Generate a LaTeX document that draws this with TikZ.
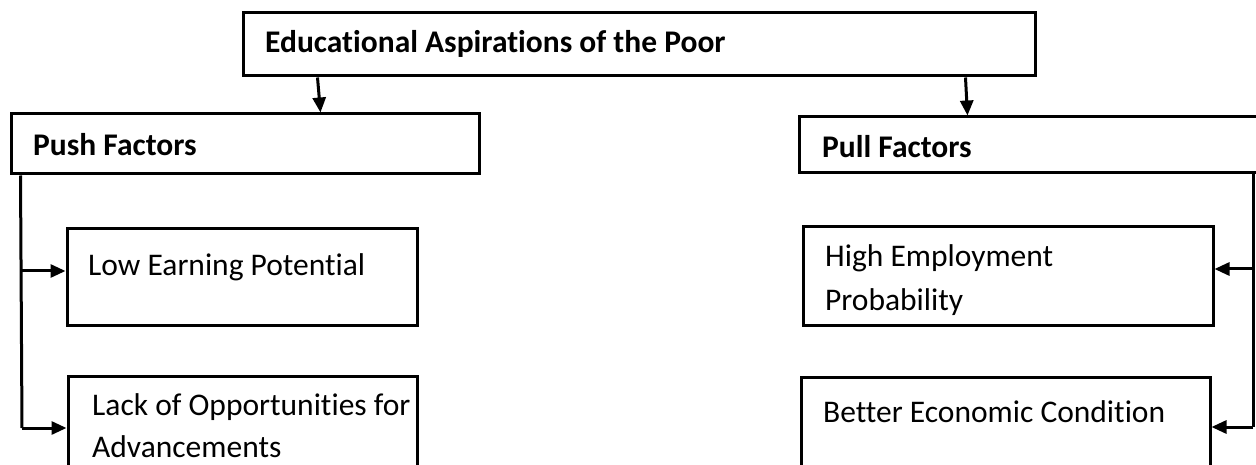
\documentclass[tikz,border=0pt]{standalone}
\usepackage{fontspec}
\setmainfont{Carlito}[Ligatures=NoCommon]
\usetikzlibrary{arrows.meta,calc}

\tikzset{
  frame/.style={draw=black, line width=3pt, inner sep=0pt, fill=white},
  label/.style={anchor=base west, inner sep=0pt, font=\fontsize{31.5}{42}\selectfont},
  head/.style={label, font=\fontsize{31.5}{42}\selectfont\bfseries},
  link/.style={draw=black, line width=3pt, -{Triangle[length=15pt,width=13pt]}},
  rail/.style={draw=black, line width=3pt}
}

\begin{document}
\begin{tikzpicture}[x=1pt, y=-1pt]
  \clip (0,0) rectangle (1256,465);
  \fill[white] (0,0) rectangle (1256,465);

  % boxes
  \node[frame, minimum width=792pt, minimum height=63pt] (top)    at (639,44.5)  {};
  \node[frame, minimum width=468pt, minimum height=60pt] (push)   at (245,144)   {};
  \node[frame, minimum width=463pt, minimum height=56pt] (pull)   at (1030.5,145) {};
  \node[frame, minimum width=350pt, minimum height=96pt] (low)    at (242,277)   {};
  \node[frame, minimum width=349pt, minimum height=104pt] (lack)  at (242.5,428) {};
  \node[frame, minimum width=410pt, minimum height=98pt] (high)   at (1008,276)  {};
  \node[frame, minimum width=409pt, minimum height=103pt] (better) at (1005.5,428.5) {};

  % texts
  \node[head] (ttop)  at (265,53)  {Educational Aspirations of the Poor};
  \node[head] (tpush) at (33,156)  {Push Factors};
  \node[head] (tpull) at (822,158) {Pull Factors};
  \node[label] (tlow)  at (88,276)  {Low Earning Potential};
  \node[label] (tlack1) at (92,415) {Lack of Opportunities for};
  \node[label] (tlack2) at (92,457) {Advancements};
  \node[label] (thigh1) at (825,267) {High Employment};
  \node[label] (thigh2) at (825,310) {Probability};
  \node[label] (tbetter) at (823,422) {Better Economic Condition};

  % arrows from the title to the two factor boxes
  \draw[link] ($(top.south west)+(76,0)$) -- ($(push.north west)+(311,0)$);
  \draw[link] ($(top.south west)+(724,0)$) -- ($(pull.north west)+(170,0)$);

  % push factor spine
  \coordinate (pfoot) at ($(push.south west)+(11,0)$);
  \coordinate (pbranch) at (22,271);
  \coordinate (pend) at (22,428);
  \draw[rail] (pfoot) -- (pend);
  \draw[link] (pbranch) -- (pbranch -| low.west);
  \draw[link] (pend) -- (pend -| lack.west);

  % pull factor spine
  \coordinate (qfoot) at (1253,173);
  \coordinate (qbranch) at (1253,269);
  \coordinate (qend) at (1253,427);
  \draw[rail] (qfoot) -- (qend);
  \draw[link] (qbranch) -- (qbranch -| high.east);
  \draw[link] (qend) -- (qend -| better.east);
\end{tikzpicture}
\end{document}
